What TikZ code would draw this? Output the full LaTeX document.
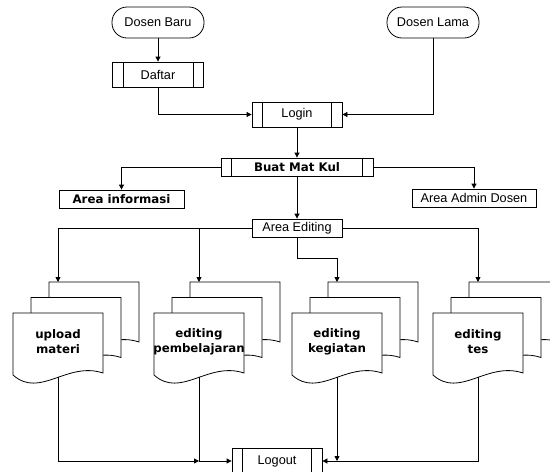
\documentclass[tikz,border=0pt]{standalone}
\usepackage{fontspec}
\setmainfont{Liberation Sans}
\newfontfamily\dejavu{DejaVu Sans}
\usetikzlibrary{arrows.meta}
\tikzset{
  page/.pic={\filldraw[fill=white] (0,0) -- (90,0) -- (90,60) .. controls (54,48) and (27,86) .. (0,62) -- cycle;},
  docstack/.pic={\pic at (36,-31) {page}; \pic at (18,-15.5) {page}; \pic at (0,0) {page};}
}
\begin{document}
\begin{tikzpicture}[x=1pt,y=-1pt,line width=0.8pt,
  every node/.style={inner sep=0pt,font=\fontsize{12.7}{14}\selectfont},
  bold/.style={font=\dejavu\bfseries\fontsize{11.8}{14}\selectfont},
  doclabel/.style={align=center,font=\dejavu\bfseries\fontsize{11.8}{15}\selectfont},
  arr/.style={-{Triangle[length=5pt,width=5pt]}},
  term/.style={draw,rounded corners=15pt,minimum width=92pt,minimum height=31pt},
  predef/.style={draw,path picture={
     \draw ([xshift=10.5pt]path picture bounding box.north west) -- ([xshift=10.5pt]path picture bounding box.south west);
     \draw ([xshift=-10.5pt]path picture bounding box.north east) -- ([xshift=-10.5pt]path picture bounding box.south east);}},
  plain/.style={draw}
]
\useasboundingbox (0,0) rectangle (550,472);

\node[term] (db) at (158,22.5) {Dosen Baru};
\node[term] (dl) at (433,22.5) {Dosen Lama};
\node[predef,minimum width=91pt,minimum height=25pt] (daftar) at (158,74.5) {Daftar};
\node[predef,minimum width=90pt,minimum height=25pt] (login) at (297,114.5) {Login};
\node[predef,bold,minimum width=152pt,minimum height=18pt] (buat) at (297,167) {Buat Mat Kul};
\node[plain,bold,minimum width=125pt,minimum height=18pt] (info) at (121.5,199) {Area informasi};
\node[plain,minimum width=124pt,minimum height=18pt] (admin) at (474,198) {Area Admin Dosen};
\node[plain,minimum width=90pt,minimum height=18pt] (edit) at (297,228) {Area Editing};
\node[predef,minimum width=90pt,minimum height=26pt] (logout) at (277,461) {Logout};

\draw[arr] (db.south) -- (daftar.north);
\draw[arr] (daftar.south) |- (login.west);
\draw[arr] (dl.south) |- (login.east);
\draw[arr] (login.south) -- (buat.north);
\draw[arr] (buat.west) -| (info.north);
\draw[arr] (buat.east) -| (admin.north);
\draw[arr] (buat.south) -- (edit.north);

\pic at (13,313) {docstack};
\pic at (154,313) {docstack};
\pic at (292,313) {docstack};
\pic at (433,313) {docstack};

\node[doclabel] (d1) at (58,342) {upload\\materi};
\node[doclabel] (d2) at (199,342) {editing\\pembelajaran};
\node[doclabel] (d3) at (337,342) {editing\\kegiatan};
\node[doclabel] (d4) at (478,342) {editing\\tes};

\coordinate (t1) at (58,282);
\coordinate (t2) at (199,282);
\coordinate (t3) at (337,282);
\coordinate (t4) at (478,282);
\coordinate (k3) at (337,258);
\coordinate (b1) at (58,377);
\coordinate (b2) at (199,377);
\coordinate (b3) at (337,377);
\coordinate (b4) at (478,377);
\coordinate (j2) at (199,461);
\coordinate (j3) at (337,461);

\draw[arr] (edit.west) -| (t1);
\draw[arr] (edit.west) -| (t2);
\draw[arr] (edit.south) |- (k3) -- (t3);
\draw[arr] (edit.east) -| (t4);

\draw[arr] (b1) |- (j2);
\draw[arr] (b2) |- (logout.west);
\draw[arr] (b3) -- (j3);
\draw[arr] (b4) |- (logout.east);
\end{tikzpicture}
\end{document}
